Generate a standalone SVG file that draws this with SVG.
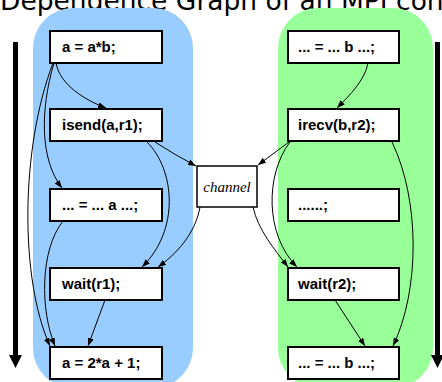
<svg xmlns="http://www.w3.org/2000/svg" width="442" height="382" viewBox="0 0 442 382">
  <defs>
    <marker id="arr" viewBox="0 0 8 6" refX="8" refY="3" markerWidth="8" markerHeight="6" markerUnits="userSpaceOnUse" orient="auto">
      <path d="M0,0 L8,3 L0,6 z" fill="#000"/>
    </marker>
  </defs>
  <style>
    .title { font-family: "DejaVu Sans", Verdana, sans-serif; font-size: 26.5px; fill: #000; }
    .proc-a { fill: #99ccff; }
    .proc-b { fill: #99ff99; }
    .box { fill: #fff; stroke: #000; stroke-width: 2; }
    .code { font-family: "Liberation Sans", Arial, Helvetica, sans-serif; font-weight: bold; font-size: 15px; fill: #000; }
    .chan { font-family: "Liberation Serif", "Times New Roman", serif; font-style: italic; font-size: 15px; fill: #000; }
    .edge { fill: none; stroke: #000; stroke-width: 1; marker-end: url(#arr); }
    .time { stroke: #000; stroke-width: 5; }
  </style>

  <text class="title" x="0" y="10">Dependence Graph of an MPI con</text>

  <!-- process lanes -->
  <rect class="proc-a" x="33" y="8" width="160" height="380" rx="40" ry="40"/>
  <rect class="proc-b" x="278" y="8" width="155" height="380" rx="40" ry="40"/>

  <!-- time axes -->
  <g id="time-left">
    <line class="time" x1="15.5" y1="42" x2="15.5" y2="356"/>
    <path d="M9,355 L22,355 L15.5,368 z" fill="#000"/>
  </g>
  <g id="time-right">
    <line class="time" x1="437.5" y1="42" x2="437.5" y2="356"/>
    <path d="M431,355 L444,355 L437.5,368 z" fill="#000"/>
  </g>

  <!-- process A -->
  <g id="a1"><rect class="box" x="50" y="31" width="112" height="32"/><text class="code" x="62" y="52">a = a*b;</text></g>
  <g id="a2"><rect class="box" x="50" y="109" width="112" height="32"/><text class="code" x="62" y="130">isend(a,r1);</text></g>
  <g id="a3"><rect class="box" x="50" y="189" width="112" height="32"/><text class="code" x="62" y="210">... = ... a ...;</text></g>
  <g id="a4"><rect class="box" x="50" y="268" width="112" height="32"/><text class="code" x="62" y="289">wait(r1);</text></g>
  <g id="a5"><rect class="box" x="50" y="347" width="112" height="32"/><text class="code" x="62" y="368">a = 2*a + 1;</text></g>

  <!-- process B -->
  <g id="b1"><rect class="box" x="288" y="31" width="111" height="32"/><text class="code" x="298" y="52">... = ... b ...;</text></g>
  <g id="b2"><rect class="box" x="288" y="109" width="111" height="32"/><text class="code" x="298" y="130">irecv(b,r2);</text></g>
  <g id="b3"><rect class="box" x="288" y="189" width="111" height="32"/><text class="code" x="298" y="210">......;</text></g>
  <g id="b4"><rect class="box" x="288" y="268" width="111" height="32"/><text class="code" x="298" y="289">wait(r2);</text></g>
  <g id="b5"><rect class="box" x="288" y="347" width="111" height="32"/><text class="code" x="298" y="368">... = ... b ...;</text></g>

  <!-- channel -->
  <g id="channel"><rect x="197" y="166" width="60" height="41" fill="#fff" stroke="#000" stroke-width="1.5"/><text class="chan" x="227" y="192" text-anchor="middle">channel</text></g>

  <!-- dependence edges -->
  <g id="edges">
    <path class="edge" d="M56,63 C60,85 85,100 106,108"/>
    <path class="edge" d="M54,63 C40,110 40,160 62,188"/>
    <path class="edge" d="M53,63 C20,150 20,280 50,346"/>
    <path class="edge" d="M63,221 C40,250 40,310 55,346"/>
    <path class="edge" d="M155,142 Q175,155 196,166"/>
    <path class="edge" d="M147,142 C175,170 180,230 142,267"/>
    <path class="edge" d="M200,207 C195,235 175,255 158,267"/>
    <path class="edge" d="M105,300 L88,346"/>

    <path class="edge" d="M368,63 C365,80 350,95 337,108"/>
    <path class="edge" d="M289,142 L258,165"/>
    <path class="edge" d="M290,142 C265,175 265,235 297,267"/>
    <path class="edge" d="M253,207 C258,230 275,250 288,267"/>
    <path class="edge" d="M392,142 C420,200 420,290 393,346"/>
    <path class="edge" d="M335,300 L365,346"/>
  </g>
</svg>
